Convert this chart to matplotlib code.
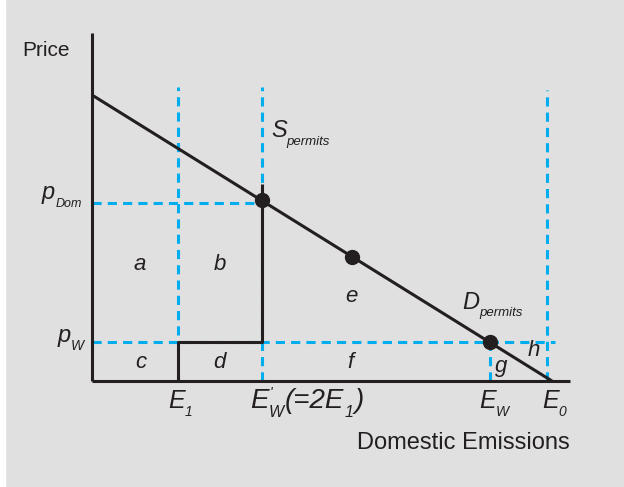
import matplotlib
matplotlib.use("Agg")
import matplotlib.pyplot as plt
from matplotlib.patches import Rectangle

plt.rcParams['font.family'] = ['Liberation Sans', 'DejaVu Sans']

# quantities (emissions) and prices, in arbitrary units
E1 = 1.87
EW_prime = 3.70
EW = 8.65
E0 = 9.90
demand_x = [0.0, 10.0]
demand_p = [10.0, 0.0]
p_dom = 6.22
p_w = 1.36
dots_x = [3.70, 5.65, 8.65]
dots_p = [6.32, 4.35, 1.36]
area_labels = ['a', 'b', 'c', 'd', 'e', 'f', 'g', 'h']
area_x = [1.04, 2.78, 1.065, 2.78, 5.65, 5.61, 8.89, 9.61]
area_y = [4.09, 4.09, 0.63, 0.63, 2.94, 0.66, 0.52, 1.08]

blue = '#00aeef'
ink = '#231f20'
bg = '#e0e0e0'

fig = plt.figure(figsize=(6.24, 4.87), dpi=100, facecolor=bg)
ax = fig.add_axes([0, 0, 1, 1])
ax.set_facecolor(bg)
ax.set_xlim(-2.0, 11.565)
ax.set_ylim(-3.706, 13.322)
ax.axis('off')
fig.patches.append(Rectangle((0, 0), 5 / 624, 1, transform=fig.transFigure,
                             color='white', zorder=0))

dash = dict(color=blue, lw=2.2, dashes=(3, 2), zorder=2)
# blue dashed guides
ax.plot([E1, E1], [1.6, 10.28], **dash)
ax.plot([EW_prime, EW_prime], [0, 10.28], **dash)
ax.plot([E0, E0], [0, 10.17], **dash)
ax.plot([EW, EW], [0, p_w], **dash)
ax.plot([0, EW_prime], [p_dom, p_dom], **dash)
ax.plot([0, 10.07], [p_w, p_w], **dash)

solid = dict(color=ink, lw=2.2, zorder=3, solid_capstyle='butt')
# axes
ax.plot([0, 0], [0, 12.17], **solid)
ax.plot([0, 10.39], [0, 0], **solid)
# demand
ax.plot(demand_x, demand_p, **solid)
# permit supply step
ax.plot([E1, E1, EW_prime, EW_prime], [0, p_w, p_w, 6.9], **solid)
ax.plot(dots_x, dots_p, 'o', color=ink, ms=10, zorder=4)

for lab, x, y in zip(area_labels, area_x, area_y):
    ax.text(x, y, lab, fontsize=16, style='italic', color=ink,
            ha='center', va='center')

ax.text(-0.48, 11.57, 'Price', fontsize=15, color=ink, ha='right', va='center')
ax.text(10.39, -2.17, 'Domestic Emissions', fontsize=17, color=ink,
        ha='right', va='center')


def chain(x, y, parts):
    # first part sits at (x, y) on its baseline, the rest follow it;
    # each extra part: (text, size, dx, dy, index of the part to follow)
    base = ax.text(x, y, parts[0][0], fontsize=parts[0][1], style='italic',
                   color=ink, ha='left', va='baseline')
    arts = [base]
    for txt, fs, dx, dy, k in parts[1:]:
        a = ax.annotate(txt, xy=(1, 0), xycoords=(arts[k], base),
                        xytext=(dx, dy), textcoords='offset points',
                        fontsize=fs, style='italic', color=ink,
                        ha='left', va='bottom')
        arts.append(a)


SUB = -4
chain(-1.087, 6.36, [('p', 17), ('Dom', 9, 0, SUB, -1)])
chain(-0.739, 1.36, [('p', 17), ('W', 10, 0, SUB, -1)])
chain(1.652, -0.944, [('E', 18), ('1', 10, 0, SUB, -1)])
chain(3.435, -0.944, [('E', 20), ("'", 10, 1, 10, 0), ('W', 11.5, 0, SUB - 0.5, 0),
                      ('(=2E', 20, 1, 0, 2), ('1', 11.5, 0, SUB - 0.5, 3),
                      (')', 20, 1, 0, 4)])
chain(8.413, -0.944, [('E', 18), ('W', 10, 0, SUB, -1)])
chain(9.783, -0.944, [('E', 18), ('0', 10, 0, SUB, -1)])
chain(3.891, 8.53, [('S', 17), ('permits', 9.5, 0, SUB, -1)])
chain(8.043, 2.52, [('D', 17), ('permits', 9.5, 0, SUB, -1)])

fig.savefig('out.png', dpi=100, facecolor=bg)
